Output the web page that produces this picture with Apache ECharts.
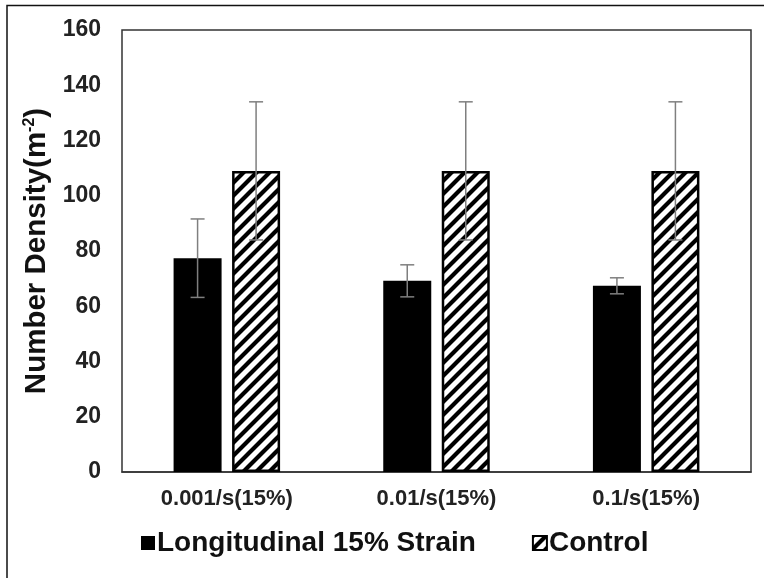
<!DOCTYPE html>
<html>
<head>
<meta charset="utf-8">
<script src="https://cdn.jsdelivr.net/npm/echarts@6/dist/echarts.min.js"></script>
<style>
  html, body { margin: 0; padding: 0; background: #fff; }
  #chart { width: 764px; height: 578px; }
</style>
</head>
<body>
<div id="chart"></div>
<script>
// data
var categories = ['0.001/s(15%)', '0.01/s(15%)', '0.1/s(15%)'];
var strainValues = [77.4, 69.2, 67.4];
var strainErrors = [14.2, 5.8, 2.9];
var controlValues = [109, 109, 109];
var controlErrors = [25, 25, 25];
var yTicks = [0, 20, 40, 60, 80, 100, 120, 140, 160];

// hatch for the control bars
function makeHatch() {
    var c = document.createElement('canvas');
    var s = 13;
    c.width = s; c.height = s;
    var ctx = c.getContext('2d');
    ctx.fillStyle = '#fff';
    ctx.fillRect(0, 0, s, s);
    ctx.strokeStyle = '#000';
    ctx.lineWidth = 4.2;
    ctx.beginPath();
    ctx.moveTo(-4, s + 4); ctx.lineTo(s + 4, -4);
    ctx.moveTo(-4, 4); ctx.lineTo(4, -4);
    ctx.moveTo(s - 4, s + 4); ctx.lineTo(s + 4, s - 4);
    ctx.stroke();
    return c;
}
var hatch = makeHatch();

var barW = 48;
var gapPx = 10.5;
var halfStep = (barW + gapPx) / 2;

function errData(vals, errs) {
    var out = [];
    for (var i = 0; i < vals.length; i++) {
        out.push([i, vals[i] - errs[i], vals[i] + errs[i]]);
    }
    return out;
}

function errRenderer(offset) {
    return function (params, api) {
        var lo = api.coord([api.value(0), api.value(1)]);
        var hi = api.coord([api.value(0), api.value(2)]);
        var x = lo[0] + offset;
        var cap = 7;
        var st = { stroke: '#7f7f7f', lineWidth: 1.5 };
        return {
            type: 'group',
            children: [
                { type: 'line', shape: { x1: x, y1: lo[1], x2: x, y2: hi[1] }, style: st },
                { type: 'line', shape: { x1: x - cap, y1: hi[1], x2: x + cap, y2: hi[1] }, style: st },
                { type: 'line', shape: { x1: x - cap, y1: lo[1], x2: x + cap, y2: lo[1] }, style: st }
            ]
        };
    };
}

var chart = echarts.init(document.getElementById('chart'));
var font = '"Liberation Sans", Arial, sans-serif';

var option = {
    backgroundColor: '#fff',
    animation: false,
    textStyle: { fontFamily: font },
    graphic: [{
        type: 'rect',
        shape: { x: 7, y: 5.5, width: 800, height: 620 },
        style: { fill: 'none', stroke: '#111', lineWidth: 1.5 },
        silent: true
    }],
    grid: {
        left: 122, right: 13, top: 30, bottom: 106,
        show: true, borderColor: '#333', borderWidth: 1.5, backgroundColor: '#fff'
    },
    legend: {
        left: 136, top: 524,
        icon: 'rect',
        itemWidth: 14, itemHeight: 14, itemGap: 56,
        data: ['Longitudinal 15% Strain', 'Control'],
        textStyle: { fontSize: 28, fontWeight: 'bold', color: '#111', fontFamily: font, padding: [0, 0, 0, -3] }
    },
    xAxis: {
        type: 'category',
        data: categories,
        axisLine: { show: true, lineStyle: { color: '#333', width: 1.5 } },
        axisTick: { show: false },
        axisLabel: { fontSize: 22, fontWeight: 'bold', color: '#222', margin: 16, fontFamily: font }
    },
    yAxis: {
        type: 'value',
        min: yTicks[0], max: yTicks[yTicks.length - 1], interval: 20,
        splitLine: { show: false },
        axisLine: { show: false },
        axisTick: { show: false },
        axisLabel: { fontSize: 23, fontWeight: 'bold', color: '#222', margin: 21, fontFamily: font },
        name: 'Number Density(m{sup|-2})',
        nameLocation: 'middle',
        nameGap: 68,
        nameTextStyle: {
            fontSize: 29.5, fontWeight: 'bold', color: '#111', fontFamily: font,
            rich: {
                sup: { fontSize: 16, fontWeight: 'bold', color: '#111', fontFamily: font, verticalAlign: 'top', padding: [0, 0, 11, 0] }
            }
        }
    },
    series: [
        {
            name: 'Longitudinal 15% Strain',
            type: 'bar',
            barWidth: barW,
            barGap: (gapPx / barW * 100) + '%',
            itemStyle: { color: '#000' },
            data: strainValues
        },
        {
            name: 'Control',
            type: 'bar',
            barWidth: barW,
            itemStyle: { color: { image: hatch, repeat: 'repeat' }, borderColor: '#000', borderWidth: 2.5 },
            data: controlValues
        },
        {
            type: 'custom',
            renderItem: errRenderer(-halfStep),
            data: errData(strainValues, strainErrors),
            z: 10, silent: true
        },
        {
            type: 'custom',
            renderItem: errRenderer(halfStep),
            data: errData(controlValues, controlErrors),
            z: 10, silent: true
        }
    ]
};
chart.setOption(option);
</script>
</body>
</html>
